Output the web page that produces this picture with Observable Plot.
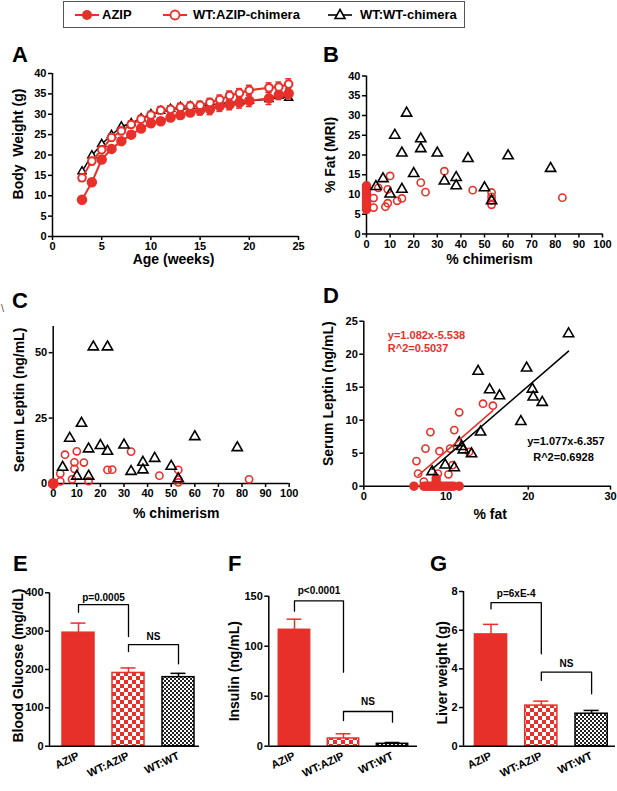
<!DOCTYPE html>
<html><head><meta charset="utf-8">
<script src="https://cdn.jsdelivr.net/npm/d3@7"></script>
<script src="https://cdn.jsdelivr.net/npm/@observablehq/plot@0.6"></script>
<style>
body{margin:0;background:#fff;font-family:"Liberation Sans",Arial,sans-serif;}
#root{position:relative;width:617px;height:791px;overflow:hidden;background:#fff;}
.letter{position:absolute;font-weight:bold;font-size:22px;line-height:1;color:#000;}
#legend{position:absolute;left:63px;top:1px;width:400px;height:25px;border:1px solid #555;font-weight:bold;font-size:13px;}
#legend span{position:absolute;line-height:25px;top:0;white-space:nowrap;}
#legend svg{position:absolute;top:6px;}
</style></head><body><div id="root"></div>
<script>
const RED = "#e8302a";

// ---- Panel A: body weight ----
const ages = [3,4,5,6,7,8,9,10,11,12,13,14,15,16,17,18,19,20,22,23,24];
const weightAZIP     = [9.0,13.3,18.9,21.5,23.4,25.0,26.5,27.8,28.3,29.2,29.8,30.4,31.0,31.2,32.0,32.4,32.9,33.3,33.9,34.8,35.1];
const weightAZIPsem  = [0.5,0.7,0.8,0.8,0.8,0.8,0.8,0.8,0.8,0.9,0.9,0.9,1.2,1.3,1.3,1.3,1.4,1.4,1.5,1.2,1.2];
const weightWTAZIP   = [14.4,18.5,21.3,24.3,25.9,27.5,28.8,29.8,31.0,31.2,31.7,32.0,32.2,32.9,33.6,34.6,35.2,35.9,36.5,36.7,37.4];
const weightWTAZIPsem= [0.8,0.9,0.9,0.9,0.9,0.9,0.9,0.9,0.9,0.9,1.0,1.0,1.0,1.0,1.1,1.1,1.1,1.2,1.2,1.2,1.3];
const weightWTWT     = [16.0,19.9,22.7,24.9,27.0,27.8,29.0,30.0,30.8,31.3,31.8,32.0,32.0,32.3,32.6,32.9,33.0,33.3,33.7,34.5,34.0];

// ---- Panel B / C: chimerism ----
const chimWTWT   = [4,7,10,12,15,15,17,20,23,23,30,33,38,38,43,50,53,60,78];
const fatWTWT    = [12.0,14.0,10.1,25.0,20.5,11.3,30.6,15.3,24.1,21.6,20.5,13.4,14.3,12.2,19.1,11.7,8.4,19.8,16.6];
const leptinWTWT = [6.2,17.3,2.8,23.0,13.2,2.8,52.2,14.5,52.2,12.3,14.7,4.6,8.1,5.2,9.6,6.6,1.8,17.9,13.7];
const chimWTAZIPfat = [3,3,5,8,9,9,10,13,15,23,25,33,45,53,53,53,53,83];
const fatWTAZIP     = [9.1,6.7,11.7,6.9,7.8,11.3,14.7,8.4,9.0,13.0,10.6,15.9,11.1,10.5,9.4,8.5,7.4,9.2];
const chimWTAZIPlep = [3,3,5,8,9,9,10,13,15,23,25,33,45,53,53,53,83];
const leptinWTAZIP  = [3.8,0.8,11.0,1.6,8.1,5.6,12.3,8.0,0.9,5.2,5.3,12.2,3.0,5.2,1.5,0.4,1.6];
const fatAZIP    = [6.2,6.9,7.6,8.3,9.0,9.6,10.3,11.0,11.6,12.2];
const leptinAZIP = [0,0,0];
const chimAZIP = 0;

// ---- Panel D: leptin vs % fat ----
const dFatWTWT   = [24.9,13.9,15.3,16.5,19.8,20.5,20.6,21.7,19.1,14.2,11.6,11.9,12.1,13.1,8.3,9.9,11.0];
const dLepWTWT   = [23.1,17.4,14.6,13.7,17.9,14.7,13.5,12.7,9.8,8.2,6.6,6.0,5.5,4.9,2.2,3.2,2.8];
const dFatWTAZIP = [14.5,15.7,11.6,8.1,11.0,7.5,9.2,10.5,12.8,6.4,6.6,9.0,10.3,10.8,7.3];
const dLepWTAZIP = [12.5,12.2,11.2,8.2,8.5,5.7,5.3,5.7,5.2,3.8,1.9,1.9,1.8,3.2,0.7];
const dFatAZIP   = [6.1,7.3,7.6,7.9,8.2,8.5,8.8,9.1,9.4,9.7,10.0,10.3,10.6,10.9,11.6,8.8,8.8];
const dLepAZIP   = [0,0,0,0,0,0,0,0,0,0,0,0,0,0,0,1.2,0.7];
const fitWTAZIP = {slope:1.082, intercept:-5.538, from:6.6, to:15.7, r2:"0.5037"};
const fitWTWT   = {slope:1.077, intercept:-6.357, from:8.3, to:24.9, r2:"0.6928"};

// ---- Panels E-G: bars ----
const groups = ["AZIP","WT:AZIP","WT:WT"];
const glucose = [296,191,180],      glucoseSEM = [25,13,10];
const insulin = [116.4,7.7,2.4],    insulinSEM = [10.6,4.7,1.3];
const liver   = [5.78,2.10,1.68],   liverSEM   = [0.52,0.23,0.17];
const glucoseBrackets = [{from:0,to:1,top:369,left:349,right:286,label:"p=0.0005",labelY:388},
                         {from:1,to:2,top:265,left:247,right:215,label:"NS",labelY:286}];
const insulinBrackets = [{from:0,to:1,top:145.4,left:135,right:74,label:"p<0.0001",labelY:155},
                         {from:1,to:2,top:34.7,left:25.7,right:24,label:"NS",labelY:44}];
const liverBrackets   = [{from:0,to:1,top:7.42,left:7.1,right:4.78,label:"p=6xE-4",labelY:7.88},
                         {from:1,to:2,top:3.83,left:3.4,right:2.71,label:"NS",labelY:4.26}];
const legendLabels = ["AZIP","WT:AZIP-chimera","WT:WT-chimera"];

// ================= drawing =================
const root = document.getElementById("root");
const FONT = "'Liberation Sans', Arial, sans-serif";
const baseStyle = {fontFamily: FONT, fontSize: "11px", fontWeight: "bold", color: "#000", background: "transparent", overflow: "visible"};
function place(el, left, top) { el.style.position = "absolute"; el.style.left = left + "px"; el.style.top = top + "px"; root.appendChild(el); }
function axes(xt, yt, x0, y0) {
  return [
    Plot.axisX({ticks: xt, tickSize: 4, tickPadding: 2, strokeWidth: 1.5, label: null}),
    Plot.axisY({ticks: yt, tickSize: 4, tickPadding: 2, strokeWidth: 1.5, label: null}),
    Plot.ruleX([x0], {stroke: "#000", strokeWidth: 1.5}),
    Plot.ruleY([y0], {stroke: "#000", strokeWidth: 1.5})
  ];
}
function yTitle(t, dx, dy) { return Plot.text([t], {text: d => d, frameAnchor: "left", textAnchor: "middle", lineAnchor: "middle", rotate: -90, dx, dy, fontSize: 14}); }
function xTitle(t, dx, dy) { return Plot.text([t], {text: d => d, frameAnchor: "bottom", textAnchor: "middle", lineAnchor: "middle", dx, dy, fontSize: 14}); }

// Panel A
const rowsA = ages.map((a, i) => ({age: a, azip: weightAZIP[i], azipE: weightAZIPsem[i], wta: weightWTAZIP[i], wtaE: weightWTAZIPsem[i], wtwt: weightWTWT[i]}));
function errMarks(data, key, ekey, color) {
  return [
    Plot.ruleX(data, {x: "age", y1: d => d[key] - d[ekey], y2: d => d[key] + d[ekey], stroke: color, strokeWidth: 1.5}),
    Plot.ruleY(data, {y: d => d[key] + d[ekey], x1: d => d.age - 0.3, x2: d => d.age + 0.3, stroke: color, strokeWidth: 1.5}),
    Plot.ruleY(data, {y: d => d[key] - d[ekey], x1: d => d.age - 0.3, x2: d => d.age + 0.3, stroke: color, strokeWidth: 1.5})
  ];
}
const plotA = Plot.plot({
  width: 310, height: 230, marginLeft: 52, marginRight: 12, marginTop: 33, marginBottom: 34,
  style: baseStyle, x: {domain: [0, 25]}, y: {domain: [0, 40]},
  marks: [
    ...axes([0,5,10,15,20,25], d3.range(0, 41, 5), 0, 0),
    Plot.line(rowsA, {x: "age", y: "wtwt", stroke: "#000", strokeWidth: 1.5}),
    Plot.dot(rowsA, {x: "age", y: "wtwt", symbol: "triangle", r: 3, stroke: "#000", fill: "white", strokeWidth: 1.5}),
    Plot.line(rowsA, {x: "age", y: "azip", stroke: RED, strokeWidth: 2}),
    ...errMarks(rowsA, "azip", "azipE", RED),
    Plot.dot(rowsA, {x: "age", y: "azip", r: 4.5, fill: RED, stroke: RED}),
    Plot.line(rowsA, {x: "age", y: "wta", stroke: RED, strokeWidth: 2}),
    ...errMarks(rowsA, "wta", "wtaE", RED),
    Plot.dot(rowsA, {x: "age", y: "wta", r: 3.8, fill: "white", stroke: RED, strokeWidth: 2}),
    yTitle("Body  Weight (g)", -34, -11),
    xTitle("Age (weeks)", -2, 23)
  ]
});
place(plotA, 0, 40);

// Panel B
const rowsBwt = chimWTWT.map((c, i) => ({c, v: fatWTWT[i]}));
const rowsBwa = chimWTAZIPfat.map((c, i) => ({c, v: fatWTAZIP[i]}));
const rowsBaz = fatAZIP.map(v => ({c: chimAZIP, v}));
const plotB = Plot.plot({
  width: 307, height: 230, marginLeft: 56, marginRight: 15, marginTop: 35.5, marginBottom: 36.5,
  style: baseStyle, x: {domain: [0, 100]}, y: {domain: [0, 40]},
  marks: [
    ...axes(d3.range(0, 101, 10), d3.range(0, 41, 5), 0, 0),
    Plot.dot(rowsBaz, {x: "c", y: "v", r: 4, fill: RED, stroke: RED}),
    Plot.dot(rowsBwa, {x: "c", y: "v", r: 3.6, fill: "none", stroke: RED, strokeWidth: 1.6}),
    Plot.dot(rowsBwt, {x: "c", y: "v", symbol: "triangle", r: 3.8, fill: "none", stroke: "#000", strokeWidth: 1.6}),
    yTitle("% Fat (MRI)", -36, 0),
    xTitle("% chimerism", 5, 25.5)
  ]
});
place(plotB, 310, 40);

// Panel C
const rowsCwt = chimWTWT.map((c, i) => ({c, v: leptinWTWT[i]}));
const rowsCwa = chimWTAZIPlep.map((c, i) => ({c, v: leptinWTAZIP[i]}));
const rowsCaz = leptinAZIP.map(v => ({c: chimAZIP, v}));
const plotC = Plot.plot({
  width: 310, height: 230, marginLeft: 52.7, marginRight: 21.3, marginTop: 26, marginBottom: 47,
  style: baseStyle, x: {domain: [0, 100]}, y: {domain: [0, 60]},
  marks: [
    ...axes(d3.range(0, 101, 10), [0, 25, 50], 0, 0),
    Plot.dot(rowsCaz, {x: "c", y: "v", r: 4.5, fill: RED, stroke: RED}),
    Plot.dot(rowsCwa, {x: "c", y: "v", r: 3.6, fill: "none", stroke: RED, strokeWidth: 1.6}),
    Plot.dot(rowsCwt, {x: "c", y: "v", symbol: "triangle", r: 3.8, fill: "none", stroke: "#000", strokeWidth: 1.6}),
    yTitle("Serum Leptin (ng/mL)", -34, -5),
    xTitle("% chimerism", 5, 30)
  ]
});
place(plotC, 0, 300);

// Panel D
const rowsDwt = dFatWTWT.map((f, i) => ({f, v: dLepWTWT[i]}));
const rowsDwa = dFatWTAZIP.map((f, i) => ({f, v: dLepWTAZIP[i]}));
const rowsDaz = dFatAZIP.map((f, i) => ({f, v: dLepAZIP[i]}));
const fitPts = (fit) => [fit.from, fit.to].map(x => ({f: x, v: fit.slope * x + fit.intercept}));
const eq = (fit) => `y=${fit.slope}x${fit.intercept}`;
const plotD = Plot.plot({
  width: 307, height: 230, marginLeft: 53.3, marginRight: 7, marginTop: 20.7, marginBottom: 44.3,
  style: baseStyle, x: {domain: [0, 30]}, y: {domain: [0, 25]},
  marks: [
    ...axes([0, 10, 20, 30], d3.range(0, 26, 5), 0, 0),
    Plot.dot(rowsDaz, {x: "f", y: "v", r: 4, fill: RED, stroke: RED}),
    Plot.dot(rowsDwa, {x: "f", y: "v", r: 3.6, fill: "none", stroke: RED, strokeWidth: 1.6}),
    Plot.dot(rowsDwt, {x: "f", y: "v", symbol: "triangle", r: 3.8, fill: "none", stroke: "#000", strokeWidth: 1.6}),
    Plot.line(fitPts(fitWTAZIP), {x: "f", y: "v", stroke: RED, strokeWidth: 1.5}),
    Plot.line(fitPts(fitWTWT), {x: "f", y: "v", stroke: "#000", strokeWidth: 1.5}),
    Plot.text([eq(fitWTAZIP)], {text: d => d, frameAnchor: "top-left", textAnchor: "start", lineAnchor: "middle", dx: 24, dy: 14.3, fill: RED, fontSize: 11}),
    Plot.text(["R^2=" + fitWTAZIP.r2], {text: d => d, frameAnchor: "top-left", textAnchor: "start", lineAnchor: "middle", dx: 24, dy: 27.6, fill: RED, fontSize: 11}),
    Plot.text([eq(fitWTWT)], {text: d => d, frameAnchor: "top-left", textAnchor: "start", lineAnchor: "middle", dx: 163.4, dy: 120, fill: "#000", fontSize: 11}),
    Plot.text(["R^2=" + fitWTWT.r2], {text: d => d, frameAnchor: "top-left", textAnchor: "start", lineAnchor: "middle", dx: 169.4, dy: 136, fill: "#000", fontSize: 11}),
    yTitle("Serum Leptin (ng/mL)", -35, -10),
    xTitle("% fat", 3, 28)
  ]
});
place(plotD, 310, 300);

// Bar panels
function barPanel(cfg) {
  const rows = groups.map((g, i) => ({i, g, v: cfg.values[i], e: cfg.sem[i]}));
  const id = cfg.id;
  const fills = [RED, `url(#${id}R)`, `url(#${id}K)`];
  const strokes = [RED, RED, "#000"];
  const brPts = cfg.brackets.flatMap((b, k) => [
    {k, x: b.from, y: b.left}, {k, x: b.from, y: b.top}, {k, x: b.to, y: b.top}, {k, x: b.to, y: b.right}]);
  const svg = Plot.plot({
    width: cfg.width, height: 251, marginLeft: cfg.ml, marginRight: cfg.mr, marginTop: cfg.mt, marginBottom: 45.3,
    style: baseStyle, x: {domain: cfg.xd}, y: {domain: cfg.yd},
    marks: [
      Plot.axisY({ticks: cfg.yt, tickSize: 4, tickPadding: 2, strokeWidth: 1.5, label: null}),
      Plot.axisX({ticks: rows.map(r => r.i), tickFormat: i => groups[i], tickRotate: -25, tickSize: 0, tickPadding: 9, fontSize: 11, label: null}),
      ...rows.map(r => Plot.rectY([r], {x1: d => d.i - 0.32, x2: d => d.i + 0.32, y: "v", fill: fills[r.i], stroke: strokes[r.i], strokeWidth: 1.5})),
      ...rows.map(r => Plot.ruleX([r], {x: "i", y1: "v", y2: d => d.v + d.e, stroke: strokes[r.i], strokeWidth: 1.5})),
      ...rows.map(r => Plot.ruleY([r], {y: d => d.v + d.e, x1: d => d.i - 0.15, x2: d => d.i + 0.15, stroke: strokes[r.i], strokeWidth: 1.5})),
      Plot.ruleX([cfg.xd[0]], {stroke: "#000", strokeWidth: 1.5}),
      Plot.ruleY([0], {stroke: "#000", strokeWidth: 1.5}),
      Plot.line(brPts, {x: "x", y: "y", z: "k", stroke: "#000", strokeWidth: 1.3}),
      Plot.text(cfg.brackets, {x: d => (d.from + d.to) / 2, y: "labelY", text: "label", fontSize: 10}),
      yTitle(cfg.title, cfg.tdx, cfg.tdy)
    ]
  });
  const defs = d3.select(svg).insert("defs", ":first-child");
  const pr = defs.append("pattern").attr("id", id + "R").attr("patternUnits", "userSpaceOnUse").attr("width", 8).attr("height", 8);
  pr.append("rect").attr("width", 8).attr("height", 8).attr("fill", "#fff");
  pr.append("rect").attr("width", 4).attr("height", 4).attr("fill", RED);
  pr.append("rect").attr("x", 4).attr("y", 4).attr("width", 4).attr("height", 4).attr("fill", RED);
  const pk = defs.append("pattern").attr("id", id + "K").attr("patternUnits", "userSpaceOnUse").attr("width", 4).attr("height", 4);
  pk.append("rect").attr("width", 4).attr("height", 4).attr("fill", "#fff");
  pk.append("rect").attr("width", 2).attr("height", 2).attr("fill", "#222");
  pk.append("rect").attr("x", 2).attr("y", 2).attr("width", 2).attr("height", 2).attr("fill", "#222");
  place(svg, cfg.left, 540);
}
barPanel({id: "E", values: glucose, sem: glucoseSEM, brackets: glucoseBrackets, title: "Blood Glucose (mg/dL)",
  width: 205, left: 0, ml: 49, mr: 6, mt: 52.3, xd: [-0.58, 2.42], yd: [0, 400], yt: d3.range(0, 401, 100), tdx: -31, tdy: -4});
barPanel({id: "F", values: insulin, sem: insulinSEM, brackets: insulinBrackets, title: "Insulin (ng/mL)",
  width: 215, left: 205, ml: 63.3, mr: 3, mt: 55.7, xd: [-0.524, 2.51], yd: [0, 150], yt: [0, 50, 100, 150], tdx: -34, tdy: 0});
barPanel({id: "G", values: liver, sem: liverSEM, brackets: liverBrackets, title: "Liver weight (g)",
  width: 207, left: 410, ml: 53, mr: 2, mt: 51, xd: [-0.547, 2.475], yd: [0, 8], yt: [0, 2, 4, 6, 8], tdx: -21, tdy: 4});

// Panel letters
[["A", 12, 44], ["B", 323, 44], ["C", 12, 290], ["D", 323, 285], ["E", 13, 553], ["F", 228, 553], ["G", 430, 553]].forEach(([t, l, tp]) => {
  const d = document.createElement("div"); d.className = "letter"; d.textContent = t; d.style.left = l + "px"; d.style.top = tp + "px"; root.appendChild(d);
});
const stray = document.createElement("div");
stray.textContent = "\\"; stray.style.cssText = "position:absolute;left:1px;top:302px;font-size:11px;color:#555;";
root.appendChild(stray);

// Legend
const legend = document.createElement("div"); legend.id = "legend"; root.appendChild(legend);
const symLeft = [11, 99, 264], textLeft = [38, 129, 296];
const symbols = [
  `<line x1="0" y1="7" x2="24" y2="7" stroke="${RED}" stroke-width="2"/><circle cx="12" cy="7" r="5" fill="${RED}"/>`,
  `<line x1="0" y1="7" x2="24" y2="7" stroke="${RED}" stroke-width="2"/><circle cx="12" cy="7" r="4.5" fill="#fff" stroke="${RED}" stroke-width="1.8"/>`,
  `<line x1="0" y1="7" x2="24" y2="7" stroke="#000" stroke-width="1.6"/><path d="M12,1.5 L17,10.5 L7,10.5 Z" fill="#fff" stroke="#000" stroke-width="1.6"/>`
];
legendLabels.forEach((lab, i) => {
  const s = document.createElementNS("http://www.w3.org/2000/svg", "svg");
  s.setAttribute("width", 24); s.setAttribute("height", 14); s.style.left = symLeft[i] + "px";
  s.innerHTML = symbols[i]; legend.appendChild(s);
  const t = document.createElement("span"); t.textContent = lab; t.style.left = textLeft[i] + "px"; legend.appendChild(t);
});
</script></body></html>
